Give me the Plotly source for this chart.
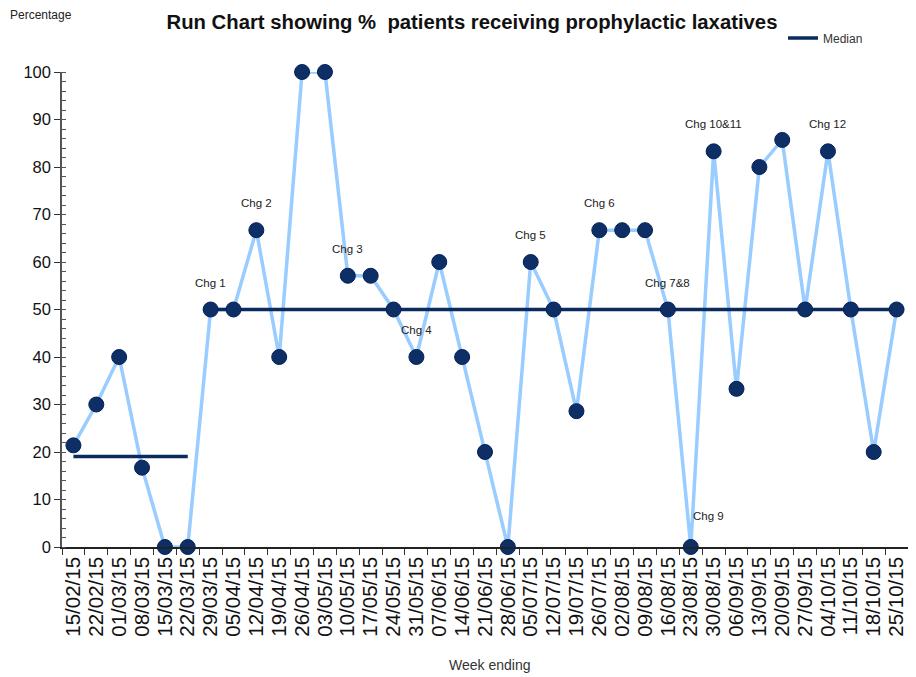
import plotly.graph_objects as go

weeks = ["15/02/15", "22/02/15", "01/03/15", "08/03/15", "15/03/15", "22/03/15",
         "29/03/15", "05/04/15", "12/04/15", "19/04/15", "26/04/15", "03/05/15",
         "10/05/15", "17/05/15", "24/05/15", "31/05/15", "07/06/15", "14/06/15",
         "21/06/15", "28/06/15", "05/07/15", "12/07/15", "19/07/15", "26/07/15",
         "02/08/15", "09/08/15", "16/08/15", "23/08/15", "30/08/15", "06/09/15",
         "13/09/15", "20/09/15", "27/09/15", "04/10/15", "11/10/15", "18/10/15",
         "25/10/15"]
pct = [21.4, 30, 40, 16.7, 0, 0,
       50, 50, 66.7, 40, 100, 100,
       57.1, 57.1, 50, 40, 60, 40,
       20, 0, 60, 50, 28.6, 66.7,
       66.7, 66.7, 50, 0, 83.3, 33.3,
       80, 85.7, 50, 83.3, 50, 20,
       50]
median1_weeks = weeks[:6]
median1 = [19.05] * 6
median2_weeks = weeks[6:]
median2 = [50] * 31

chg_labels = ["Chg 1", "Chg 2", "Chg 3", "Chg 4", "Chg 5", "Chg 6",
              "Chg 7&8", "Chg 9", "Chg 10&11", "Chg 12"]
chg_weeks = ["29/03/15", "12/04/15", "10/05/15", "31/05/15", "05/07/15",
             "26/07/15", "16/08/15", "23/08/15", "30/08/15", "04/10/15"]

FONT = "Liberation Sans, Arial"
NAVY = "#0B2A5E"

# page body has an 8px margin; the figure is sized/positioned to compensate
W, H = 900, 669
L, T, B, R = 54, 64, 130, 0
PW, PH = W - L - R, H - T - B

fig = go.Figure()
fig.add_trace(go.Scatter(x=weeks, y=pct, mode="lines",
                         line=dict(color="#99CCFF", width=3.5),
                         showlegend=False, hoverinfo="skip"))
fig.add_trace(go.Scatter(x=median1_weeks, y=median1, mode="lines",
                         line=dict(color=NAVY, width=3.5), name="Median",
                         legendgroup="m", showlegend=True))
fig.add_trace(go.Scatter(x=median2_weeks, y=median2, mode="lines",
                         line=dict(color=NAVY, width=3.5), name="Median",
                         legendgroup="m", showlegend=False))
fig.add_trace(go.Scatter(x=weeks, y=pct, mode="markers",
                         marker=dict(size=15, color="#0E2F66",
                                     line=dict(color="#02205A", width=1)),
                         showlegend=False, cliponaxis=False))

pct_by_week = dict(zip(weeks, pct))
for lab, wk in zip(chg_labels, chg_weeks):
    special = lab == "Chg 9"
    fig.add_annotation(x=wk, y=pct_by_week[wk], text=lab, showarrow=False,
                       xref="x", yref="y",
                       xshift=18 if special else 0,
                       yshift=31 if special else 27,
                       font=dict(family=FONT, size=11.5, color="#222"))

fig.add_annotation(text="Percentage", xref="paper", yref="paper",
                   x=(0 - L) / PW, y=1.0 + (T - 7) / PH, xanchor="left",
                   yanchor="middle", showarrow=False,
                   font=dict(family=FONT, size=12, color="#222"))
fig.add_annotation(text="Week ending", xref="paper", yref="paper",
                   x=(482 - L) / PW, y=-(657 - (T + PH)) / PH, xanchor="center",
                   yanchor="middle", showarrow=False,
                   font=dict(family=FONT, size=14, color="#333"))

fig.update_layout(
    width=W, height=H,
    margin=dict(l=L, r=R, t=T, b=B, autoexpand=False),
    paper_bgcolor="white", plot_bgcolor="white",
    title=dict(text="<b>Run Chart showing %  patients receiving prophylactic laxatives</b>",
               x=464 / W, xanchor="center", y=1 - 14 / H, yanchor="middle",
               font=dict(family=FONT, size=20.3, color="#111")),
    legend=dict(x=(775 - L) / PW, y=1.0 + (T - 30) / PH, xanchor="left",
                yanchor="middle", bgcolor="rgba(0,0,0,0)",
                font=dict(family=FONT, size=12, color="#333"),
                itemwidth=30),
    xaxis=dict(type="category", categoryorder="array", categoryarray=weeks,
               range=[-0.5, len(weeks) - 0.5],
               tickmode="linear", dtick=1, automargin=False,
               tickangle=-90, tickson="boundaries", ticks="outside",
               ticklen=6, tickcolor="#333", showline=True, linecolor="#222",
               linewidth=1.5, showgrid=False, zeroline=False,
               tickfont=dict(family=FONT, size=20.5, color="#111")),
    yaxis=dict(range=[0, 100], dtick=10, ticks="outside", ticklen=6,
               automargin=False,
               tickcolor="#333", showline=True, linecolor="#555", linewidth=1.5,
               showgrid=False, zeroline=False,
               minor=dict(dtick=2, ticks="inside", ticklen=4, tickcolor="#555"),
               tickfont=dict(family=FONT, size=16.5, color="#111")),
)

fig.write_html("out.html")
